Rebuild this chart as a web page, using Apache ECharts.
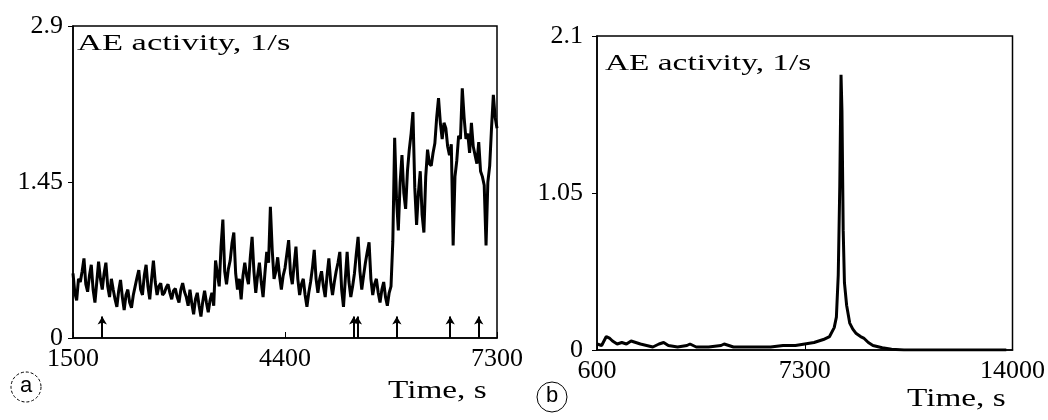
<!DOCTYPE html>
<html><head><meta charset="utf-8">
<script src="https://cdn.jsdelivr.net/npm/echarts@6/dist/echarts.min.js"></script>
<style>html,body{margin:0;padding:0;background:#fff}#c{width:1048px;height:420px}</style>
</head><body><div id="c"></div>
<script>
// ---- Panel (a) data: time (s) and AE activity (1/s) ----
const timeA = [
1500,1525,1550,1575,1600,1625,1650,1675,1700,1725,
1750,1775,1800,1825,1850,1875,1900,1925,1950,1975,
2000,2025,2050,2075,2100,2125,2150,2175,2200,2225,
2250,2275,2300,2325,2350,2375,2400,2425,2450,2475,
2500,2525,2550,2575,2600,2625,2650,2675,2700,2725,
2750,2775,2800,2825,2850,2875,2900,2925,2950,2975,
3000,3025,3050,3075,3100,3125,3150,3175,3200,3225,
3250,3275,3300,3325,3350,3375,3400,3425,3450,3475,
3500,3525,3550,3575,3600,3625,3650,3675,3700,3725,
3750,3775,3800,3825,3850,3875,3900,3925,3950,3975,
4000,4025,4050,4075,4100,4125,4150,4175,4200,4225,
4250,4275,4300,4325,4350,4375,4400,4425,4450,4475,
4500,4525,4550,4575,4600,4625,4650,4675,4700,4725,
4750,4775,4800,4825,4850,4875,4900,4925,4950,4975,
5000,5025,5050,5075,5100,5125,5150,5175,5200,5225,
5250,5275,5300,5325,5350,5375,5400,5425,5450,5475,
5500,5525,5550,5575,5600,5625,5650,5675,5700,5725,
5750,5775,5800,5825,5850,5875,5900,5925,5950,5975,
6000,6025,6050,6075,6100,6125,6150,6175,6200,6225,
6250,6275,6300,6325,6350,6375,6400,6425,6450,6475,
6500,6525,6550,6575,6600,6625,6650,6675,6700,6725,
6750,6775,6800,6825,6850,6875,6900,6925,6950,6975,
7000,7025,7050,7075,7100,7125,7150,7175,7200,7225,
7250,7275,7300];
const actA = [
0.60,0.42,0.35,0.55,0.52,0.62,0.74,0.50,0.43,0.58,
0.68,0.45,0.33,0.52,0.71,0.55,0.45,0.60,0.70,0.48,
0.38,0.55,0.45,0.36,0.29,0.44,0.54,0.38,0.26,0.40,
0.45,0.33,0.28,0.40,0.48,0.56,0.63,0.45,0.40,0.58,
0.68,0.48,0.36,0.55,0.72,0.52,0.40,0.48,0.51,0.40,
0.42,0.47,0.50,0.42,0.36,0.44,0.46,0.38,0.33,0.45,
0.51,0.43,0.38,0.30,0.45,0.32,0.22,0.36,0.42,0.30,
0.20,0.34,0.44,0.33,0.24,0.35,0.42,0.30,0.72,0.60,
0.48,0.85,1.10,0.62,0.50,0.64,0.72,0.88,0.98,0.60,
0.45,0.55,0.36,0.58,0.70,0.58,0.50,0.75,0.94,0.62,
0.42,0.58,0.70,0.52,0.38,0.60,0.80,0.70,1.22,0.82,
0.55,0.62,0.75,0.58,0.45,0.58,0.65,0.78,0.91,0.60,
0.50,0.68,0.85,0.55,0.40,0.50,0.55,0.40,0.29,0.42,
0.52,0.65,0.82,0.55,0.42,0.55,0.62,0.48,0.38,0.58,
0.74,0.52,0.40,0.52,0.62,0.70,0.80,0.45,0.29,0.55,
0.80,0.52,0.38,0.48,0.60,0.78,0.94,0.62,0.45,0.58,
0.70,0.80,0.89,0.55,0.40,0.50,0.55,0.42,0.33,0.45,
0.52,0.38,0.30,0.42,0.48,0.90,1.86,1.30,1.00,1.45,
1.70,1.35,1.20,1.55,1.75,1.90,2.10,1.40,1.05,1.35,
1.55,1.15,0.98,1.50,1.75,1.62,1.60,1.72,1.81,2.05,
2.23,2.00,1.85,2.00,1.95,1.78,1.70,1.80,0.86,1.50,
1.65,1.88,1.85,2.32,2.05,1.85,1.90,1.72,2.00,1.78,
1.70,1.62,1.82,1.55,1.50,1.42,0.86,1.45,1.60,1.95,
2.26,2.05,1.95];
const arrowTimesA = [1900, 5340, 5390, 5930, 6660, 7050];
const arrowTopA = 0.2;
const xTicksA = [1500, 4400, 7300];
const yTicksA = [0, 1.45, 2.9];

// ---- Panel (b) data ----
const timeB = [600,750,900,1000,1100,1250,1400,1550,1700,1850,2000,2200,2400,2600,2750,2900,3200,3500,3600,3800,4200,4600,4700,5000,5500,5800,6200,6600,7000,7300,7600,7900,8100,8250,8320,8380,8430,8470,8500,8540,8580,8650,8750,8850,8960,9100,9200,9350,9500,9800,10100,10500,11000,12000,13000,13800];
const actB = [0.04,0.03,0.09,0.08,0.06,0.04,0.05,0.04,0.06,0.05,0.04,0.03,0.02,0.04,0.05,0.03,0.02,0.03,0.04,0.02,0.02,0.03,0.04,0.02,0.02,0.02,0.02,0.03,0.03,0.04,0.05,0.07,0.09,0.15,0.22,0.50,1.10,1.84,1.60,0.80,0.45,0.30,0.18,0.14,0.11,0.09,0.08,0.05,0.03,0.015,0.005,0,0,0,0,0];
const xTicksB = [600, 7300, 14000];
const yTicksB = [0, 1.05, 2.1];

const FONT = '"Liberation Serif", "Times New Roman", serif';
const chart = echarts.init(document.getElementById('c'), null, {renderer: 'canvas'});
const plain = v => String(v);

function xAxisDef(gi, min, max, ticks) {
  return {
    type: 'value', gridIndex: gi, min: min, max: max,
    splitLine: {show: false},
    axisLine: {show: true, onZero: false, lineStyle: {color: '#000', width: 1.5}},
    axisTick: {show: true, inside: true, length: 6, customValues: ticks, lineStyle: {color: '#000'}},
    axisLabel: {customValues: ticks, formatter: plain, color: '#000', fontFamily: FONT, fontSize: 26, margin: 8, showMinLabel: true, showMaxLabel: true}
  };
}
function yAxisDef(gi, min, max, ticks, margin) {
  return {
    type: 'value', gridIndex: gi, min: min, max: max,
    splitLine: {show: false},
    axisLine: {show: true, onZero: false, lineStyle: {color: '#000', width: 1.5}},
    axisTick: {show: true, length: 5, customValues: ticks, lineStyle: {color: '#000'}},
    axisLabel: {customValues: ticks, formatter: plain, color: '#000', fontFamily: FONT, fontSize: 26, margin: margin, showMinLabel: true, showMaxLabel: true}
  };
}

const option = {
  animation: false,
  backgroundColor: '#fff',
  grid: [
    {left: 73, top: 26, width: 424, height: 312, show: true, borderColor: '#000', borderWidth: 1.5, backgroundColor: 'transparent'},
    {left: 597, top: 36, width: 416, height: 314, show: true, borderColor: '#000', borderWidth: 1.5, backgroundColor: 'transparent'}
  ],
  xAxis: [xAxisDef(0, 1500, 7300, xTicksA), xAxisDef(1, 600, 14000, xTicksB)],
  yAxis: [yAxisDef(0, 0, 2.9, yTicksA, 10), yAxisDef(1, 0, 2.1, yTicksB, 14)],
  series: [
    {
      type: 'line', xAxisIndex: 0, yAxisIndex: 0, showSymbol: false, silent: true,
      lineStyle: {color: '#000', width: 3}, itemStyle: {color: '#000'},
      data: timeA.map((t, i) => [t, actA[i]]),
      markLine: {
        silent: true, symbol: ['none', 'arrow'], symbolSize: [7, 8], precision: 4,
        label: {show: false},
        lineStyle: {color: '#000', width: 2, type: 'solid'},
        data: arrowTimesA.map(t => [{coord: [t, 0]}, {coord: [t, arrowTopA]}])
      }
    },
    {
      type: 'line', xAxisIndex: 1, yAxisIndex: 1, showSymbol: false, silent: true,
      lineStyle: {color: '#000', width: 3}, itemStyle: {color: '#000'},
      data: timeB.map((t, i) => [t, actB[i]])
    }
  ],
  graphic: [
    {type: 'text', x: 77, y: 44, scaleX: 1.5, style: {text: 'AE activity, 1/s', font: '23px "Liberation Serif"', fill: '#000', align: 'left', verticalAlign: 'middle'}},
    {type: 'text', x: 605, y: 64, scaleX: 1.45, style: {text: 'AE activity, 1/s', font: '23px "Liberation Serif"', fill: '#000', align: 'left', verticalAlign: 'middle'}},
    {type: 'text', x: 388, y: 391, scaleX: 1.33, style: {text: 'Time, s', font: '25px "Liberation Serif"', fill: '#000', align: 'left', verticalAlign: 'middle'}},
    {type: 'text', x: 907, y: 399, scaleX: 1.33, style: {text: 'Time, s', font: '25px "Liberation Serif"', fill: '#000', align: 'left', verticalAlign: 'middle'}},
    {type: 'circle', shape: {cx: 26, cy: 387, r: 15}, style: {fill: 'none', stroke: '#000', lineWidth: 1, lineDash: [3, 2]}},
    {type: 'text', x: 26, y: 386, style: {text: 'a', font: '22px "Liberation Sans"', fill: '#000', align: 'center', verticalAlign: 'middle'}},
    {type: 'circle', shape: {cx: 552, cy: 397, r: 15}, style: {fill: 'none', stroke: '#000', lineWidth: 1}},
    {type: 'text', x: 552, y: 396, style: {text: 'b', font: '22px "Liberation Sans"', fill: '#000', align: 'center', verticalAlign: 'middle'}}
  ]
};
chart.setOption(option);
</script>
</body></html>
